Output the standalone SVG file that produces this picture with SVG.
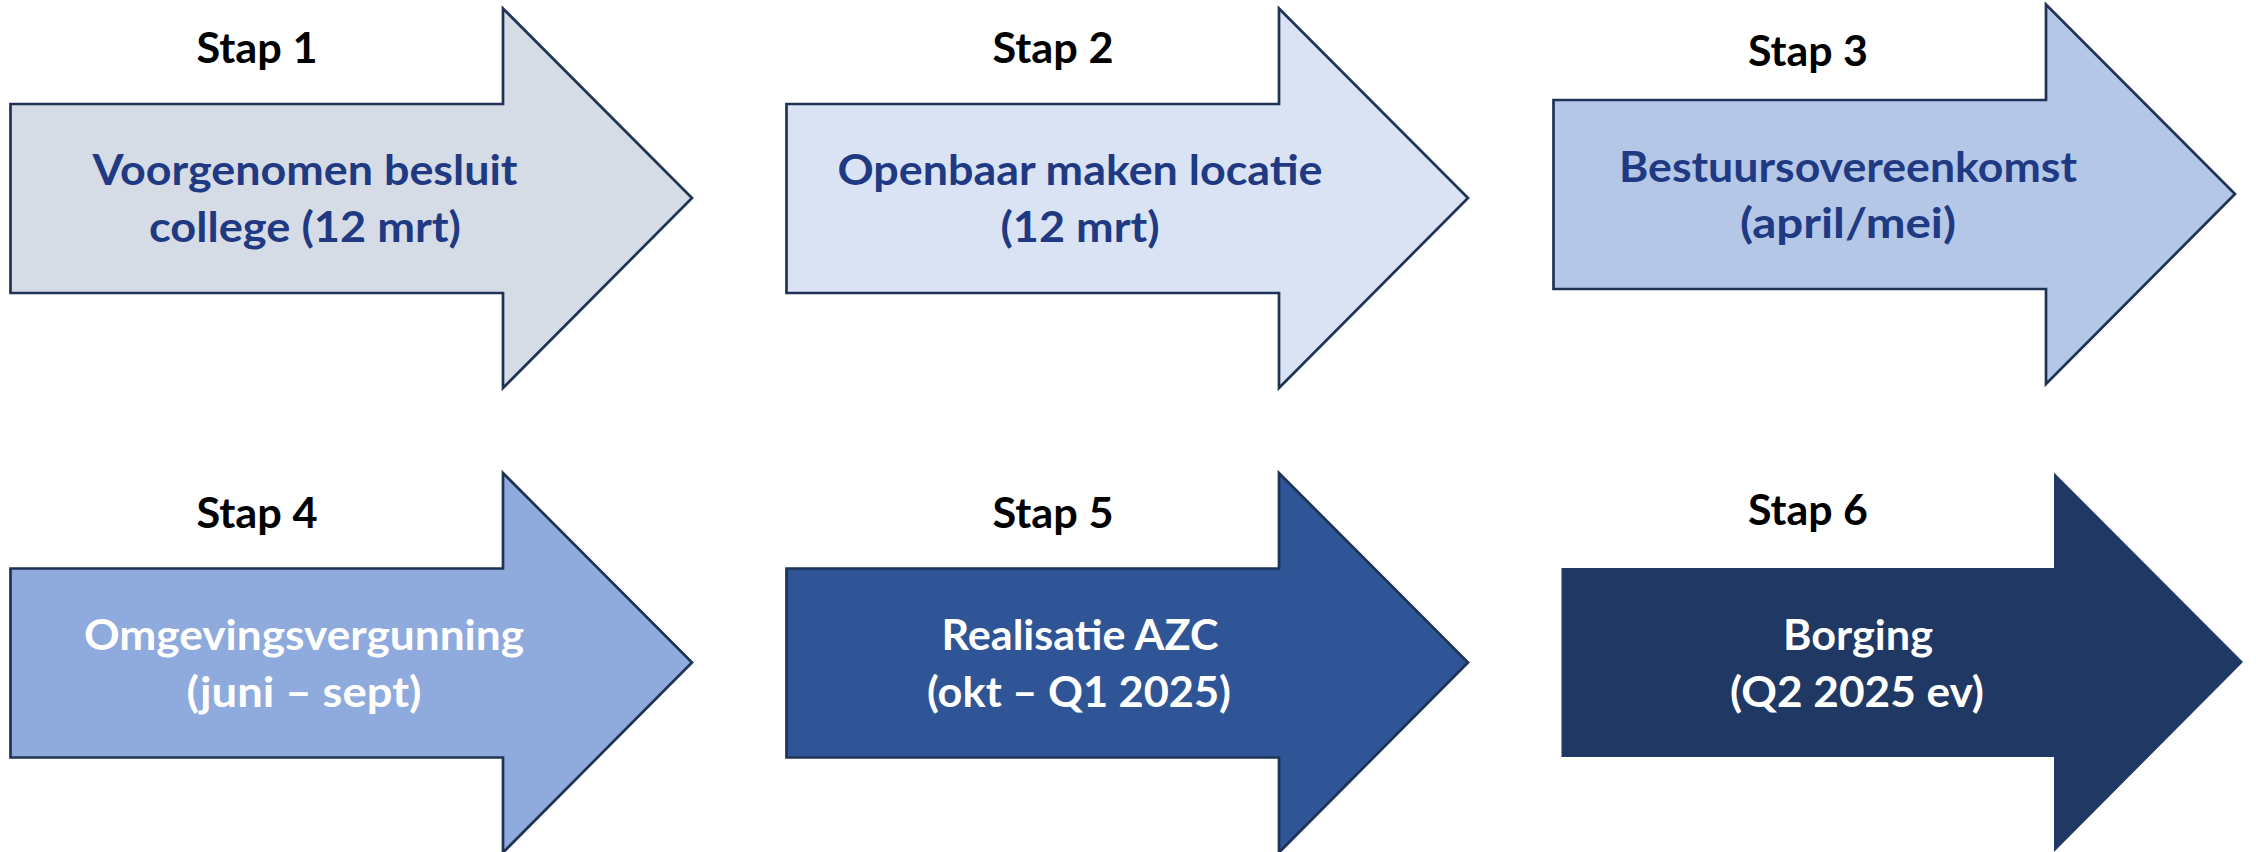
<svg xmlns="http://www.w3.org/2000/svg" xmlns:xlink="http://www.w3.org/1999/xlink" width="2256" height="852" viewBox="0 0 2256 852">
<style>
.arrow{stroke:#1F3356;stroke-width:2.7;stroke-linejoin:miter}
.stap{font-family:Lato,"Liberation Sans",sans-serif;font-weight:700;font-size:42px;fill:#000;text-anchor:middle}
.lbl{font-family:Lato,"Liberation Sans",sans-serif;font-weight:700;font-size:42px;text-anchor:middle}
.dark{fill:#1F3A82}
.light{fill:#FFFFFF}
</style>
<defs>
<path id="arr" d="M10.5,104 H503 V8.5 L692,198 L503,388 V293 H10.5 Z"/>
</defs>
<rect x="0" y="0" width="2256" height="852" fill="#FFFFFF"/>
<g id="connectors"></g>
<g id="step1">
<use xlink:href="#arr" href="#arr" class="arrow" fill="#D6DCE5"/>
<text class="stap" x="257" y="63" textLength="121" lengthAdjust="spacingAndGlyphs">Stap 1</text>
<text class="lbl dark" x="305" y="185" textLength="425" lengthAdjust="spacingAndGlyphs">Voorgenomen besluit</text>
<text class="lbl dark" x="305" y="242" textLength="312" lengthAdjust="spacingAndGlyphs">college (12 mrt)</text>
</g>
<g id="step2">
<use xlink:href="#arr" href="#arr" class="arrow" fill="#DAE3F3" transform="translate(776,0)"/>
<text class="stap" x="1053" y="63" textLength="121" lengthAdjust="spacingAndGlyphs">Stap 2</text>
<text class="lbl dark" x="1080" y="185" textLength="485" lengthAdjust="spacingAndGlyphs">Openbaar maken locatie</text>
<text class="lbl dark" x="1080" y="242" textLength="159" lengthAdjust="spacingAndGlyphs">(12 mrt)</text>
</g>
<g id="step3">
<use xlink:href="#arr" href="#arr" class="arrow" fill="#B4C7E7" transform="translate(1543,-4)"/>
<text class="stap" x="1808" y="66" textLength="120" lengthAdjust="spacingAndGlyphs">Stap 3</text>
<text class="lbl dark" x="1848" y="182" textLength="458" lengthAdjust="spacingAndGlyphs">Bestuursovereenkomst</text>
<text class="lbl dark" x="1848" y="238" textLength="216" lengthAdjust="spacingAndGlyphs">(april/mei)</text>
</g>
<g id="step4">
<use xlink:href="#arr" href="#arr" class="arrow" fill="#8FAADC" transform="translate(0,464.5)"/>
<text class="stap" x="257" y="528" textLength="121" lengthAdjust="spacingAndGlyphs">Stap 4</text>
<text class="lbl light" x="304" y="650" textLength="440" lengthAdjust="spacingAndGlyphs">Omgevingsvergunning</text>
<text class="lbl light" x="304" y="707" textLength="235" lengthAdjust="spacingAndGlyphs">(juni – sept)</text>
</g>
<g id="step5">
<use xlink:href="#arr" href="#arr" class="arrow" fill="#2F5597" transform="translate(776,464.5)"/>
<text class="stap" x="1053" y="528" textLength="121" lengthAdjust="spacingAndGlyphs">Stap 5</text>
<text class="lbl light" x="1080" y="650" textLength="277" lengthAdjust="spacingAndGlyphs">Realisatie AZC</text>
<text class="lbl light" x="1079" y="707" textLength="304" lengthAdjust="spacingAndGlyphs">(okt – Q1 2025)</text>
</g>
<g id="step6">
<use xlink:href="#arr" href="#arr" fill="#203864" transform="translate(1551,464)"/>
<text class="stap" x="1808" y="525" textLength="120" lengthAdjust="spacingAndGlyphs">Stap 6</text>
<text class="lbl light" x="1858" y="650" textLength="150" lengthAdjust="spacingAndGlyphs">Borging</text>
<text class="lbl light" x="1857" y="707" textLength="254" lengthAdjust="spacingAndGlyphs">(Q2 2025 ev)</text>
</g>
</svg>
